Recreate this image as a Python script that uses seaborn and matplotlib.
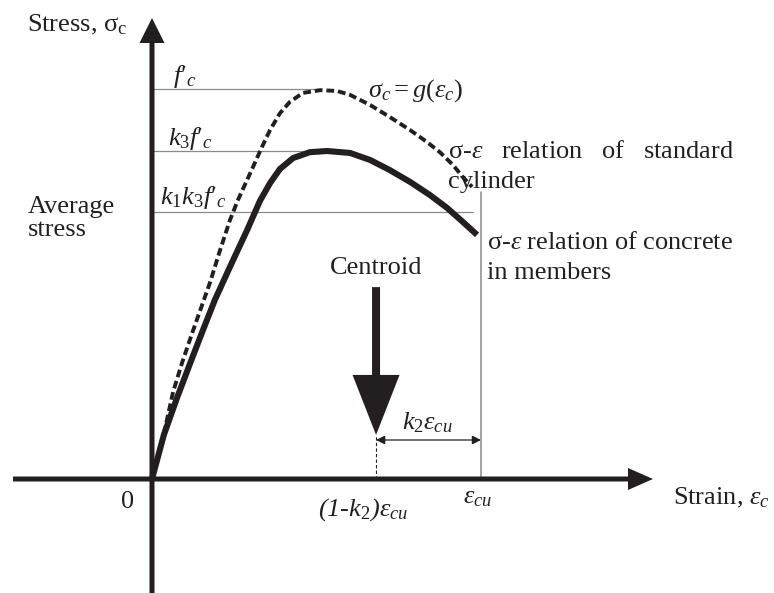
import numpy as np
import pandas as pd
import matplotlib
matplotlib.use("Agg")
import matplotlib.pyplot as plt
from matplotlib.patches import FancyArrow
import seaborn as sns

# Normalised stress-strain curves (strain / eps_cu, stress / f'c)
cyl_strain = [0.000, 0.015, 0.040, 0.064, 0.091, 0.122, 0.176, 0.207, 0.237,
              0.261, 0.307, 0.334, 0.359, 0.389, 0.419, 0.459, 0.511, 0.562,
              0.602, 0.663, 0.723, 0.784, 0.836, 0.875, 0.915, 0.945, 0.973]
cyl_stress = [0.000, 0.049, 0.131, 0.223, 0.297, 0.374, 0.503, 0.587, 0.664,
              0.715, 0.800, 0.851, 0.895, 0.938, 0.967, 0.990, 0.997, 0.995,
              0.985, 0.959, 0.928, 0.895, 0.864, 0.838, 0.805, 0.774, 0.749]

mem_strain = [0.000, 0.036, 0.076, 0.116, 0.155, 0.191, 0.237, 0.289, 0.328,
              0.359, 0.389, 0.429, 0.480, 0.532, 0.602, 0.663, 0.723, 0.784,
              0.845, 0.897, 0.945, 0.988]
mem_stress = [0.000, 0.113, 0.208, 0.297, 0.382, 0.459, 0.544, 0.638, 0.713,
              0.759, 0.795, 0.823, 0.838, 0.841, 0.836, 0.818, 0.792, 0.762,
              0.728, 0.695, 0.659, 0.626]

eps_cu = 1.0
fc = 1.0
k1 = 0.815
k2 = 0.319
k3 = 0.840

cyl = pd.DataFrame({"strain": cyl_strain, "stress": cyl_stress})
mem = pd.DataFrame({"strain": mem_strain, "stress": mem_stress})

sns.set_style("white")
plt.rcParams["font.family"] = ["Liberation Serif", "DejaVu Serif"]
plt.rcParams["mathtext.fontset"] = "custom"
plt.rcParams["mathtext.rm"] = "Liberation Serif"
plt.rcParams["mathtext.it"] = "Liberation Serif:italic"
plt.rcParams["mathtext.bf"] = "Liberation Serif:bold"

INK = "#231f20"
GREY = "#8a8a8a"
FS = 19

fig = plt.figure(figsize=(7.74, 5.93), dpi=100)
ax = fig.add_axes([0, 0, 1, 1])
# pixel scale: 329 px per unit strain, 390 px per unit stress
sx, sy = 329.0, 390.0
ax.set_xlim(-152 / sx, (774 - 152) / sx)
ax.set_ylim(-(593 - 479) / sy, 479 / sy)
ax.set_axis_off()

# reference levels
eps_peak_cyl = cyl.loc[cyl.stress.idxmax(), "strain"]
eps_peak_mem = mem.loc[mem.stress.idxmax(), "strain"]
ax.plot([0, eps_peak_cyl], [fc, fc], color=GREY, lw=0.9, zorder=1)
ax.plot([0, eps_peak_mem], [k3 * fc, k3 * fc], color=GREY, lw=0.9, zorder=1)
ax.plot([0, 0.976 * eps_cu], [k1 * k3 * fc] * 2, color=GREY, lw=0.9, zorder=1)
ax.plot([eps_cu, eps_cu], [0, 0.736], color=GREY, lw=1.1, zorder=1)

# curves
sns.lineplot(data=cyl, x="strain", y="stress", sort=False, estimator=None,
             color=INK, lw=2.8, ax=ax, zorder=3)
ax.lines[-1].set_dashes((2.0, 1.0))
sns.lineplot(data=mem, x="strain", y="stress", sort=False, estimator=None,
             color=INK, lw=4.4, ax=ax, zorder=4, solid_capstyle="butt",
             solid_joinstyle="round")

# coordinate axes
ax.add_patch(FancyArrow(0, -(593 - 479) / sy, 0, (593 - 18) / sy,
                        width=5 / sx, head_width=25 / sx, head_length=25 / sy,
                        length_includes_head=True, color=INK, lw=0, zorder=5))
ax.add_patch(FancyArrow(-139 / sx, 0, (653 - 13) / sx, 0,
                        width=5 / sy, head_width=22 / sy, head_length=25 / sx,
                        length_includes_head=True, color=INK, lw=0, zorder=5))

# centroid of the stress block
x_c = (1 - k2) * eps_cu
tip = 0.113
ax.add_patch(FancyArrow(x_c, 0.492, 0, tip - 0.492,
                        width=8 / sx, head_width=47 / sx, head_length=60 / sy,
                        length_includes_head=True, color=INK, lw=0, zorder=5))
ax.plot([x_c, x_c], [0, tip], color=INK, lw=0.8, ls=(0, (3, 2)), zorder=2)
ax.annotate("", xy=(x_c, 0.100), xytext=(eps_cu, 0.100),
            arrowprops=dict(arrowstyle="<|-|>", color=INK, lw=0.9,
                            mutation_scale=13, shrinkA=0, shrinkB=0))

def label(x, y, s, ha="left", **kw):
    ax.text(x, y, s, ha=ha, va="center", fontsize=FS, color=INK, **kw)

label(-0.380, 1.164, r"Stress, $\mathrm{\sigma_c}$")
label(-0.377, 0.667, "Average\nstress", linespacing=1.05)
label(0.064, 1.033, r"$f\prime_c$")
label(0.049, 0.874, r"$k_3f\prime_c$")
label(0.024, 0.721, r"$k_1k_3f\prime_c$")
label(0.657, 0.997, r"$\sigma_c = g(\varepsilon_c)$")
label(0.900, 0.838, r"$\mathrm{\sigma}$-$\varepsilon$   relation   of   standard")
label(0.900, 0.762, "cylinder")
label(1.018, 0.605, r"$\mathrm{\sigma}$-$\varepsilon$ relation of concrete")
label(1.018, 0.528, "in members")
label(x_c, 0.541, "Centroid", ha="center")
label(0.836, 0.144, r"$k_2\varepsilon_{cu}$", ha="center")
label(-0.073, -0.059, "0", ha="center")
label(eps_cu - 0.009, -0.049, r"$\varepsilon_{cu}$", ha="center")
label(0.641, -0.079, r"(1-$k_2$)$\varepsilon_{cu}$", ha="center", style="italic")
label(1.584, -0.049, r"Strain, $\varepsilon_c$")

fig.savefig("out.png", dpi=100, facecolor="white")
